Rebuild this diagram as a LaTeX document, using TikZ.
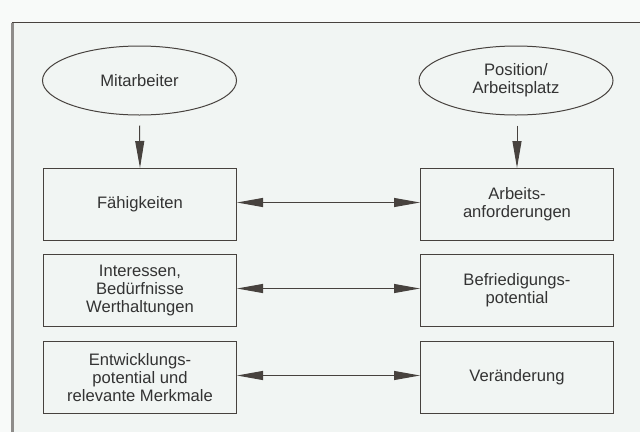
\documentclass[tikz,border=0pt]{standalone}
\usepackage{fontspec}
\setmainfont{Liberation Sans}
\usetikzlibrary{shapes.geometric,arrows.meta}
\definecolor{inkline}{HTML}{47423E}
\definecolor{inktext}{HTML}{333333}
\definecolor{paperout}{HTML}{F8FAF9}
\definecolor{paperin}{HTML}{F1F5F3}
\definecolor{frameleft}{HTML}{8E8C8A}
\tikzset{
  box/.style={draw=inkline, line width=1pt, minimum width=193pt, minimum height=72pt,
              inner sep=0pt, align=center, text=inktext, font=\fontsize{16.6}{18.4}\selectfont},
  oval/.style={ellipse, draw=inkline, line width=1pt, minimum width=194pt, minimum height=69pt,
              inner sep=0pt, align=center, text=inktext, font=\fontsize{16.6}{18.4}\selectfont},
  conn/.style={draw=inkline, line width=1pt},
  tip/.style={-{Triangle[length=27pt,width=9pt,fill=inkline]}},
  bitip/.style={{Triangle[length=26pt,width=9pt,fill=inkline]}-{Triangle[length=26pt,width=9pt,fill=inkline]}}
}
\begin{document}
\begin{tikzpicture}[x=1pt,y=-1pt]
\useasboundingbox (0,0) rectangle (640,432);
\fill[paperout] (0,0) rectangle (640,432);
\fill[paperin] (12.7,22.7) rectangle (640,432);
\draw[frameleft, line width=2.5pt] (12.7,432) -- (12.7,22.7);
\draw[inkline, line width=1pt] (11.5,22.7) -- (640,22.7);

\node[oval] (ma) at (139.5,80.5) {Mitarbeiter};
\node[oval] (pos) at (516,80.5) {Position/\\Arbeitsplatz};

\node[box] (f1) at (140,204.5) {Fähigkeiten};
\node[box] (a1) at (517,204.5) {Arbeits-\\anforderungen};
\node[box] (f2) at (140,290.5) {Interessen,\\Bedürfnisse\\Werthaltungen};
\node[box] (a2) at (517,290.5) {Befriedigungs-\\potential};
\node[box] (f3) at (140,377.5) {Entwicklungs-\\potential und\\relevante Merkmale};
\node[box] (a3) at (517,377.5) {Veränderung};

\draw[conn, tip, shorten <=10pt] (ma.south) -- (f1.north);
\draw[conn, tip, shorten <=10pt] (pos.south -| a1.north) -- (a1.north);
\draw[conn, bitip] ([yshift=2pt]f1.east) -- ([yshift=2pt]a1.west);
\draw[conn, bitip] ([yshift=2pt]f2.east) -- ([yshift=2pt]a2.west);
\draw[conn, bitip] ([yshift=2pt]f3.east) -- ([yshift=2pt]a3.west);
\end{tikzpicture}
\end{document}
